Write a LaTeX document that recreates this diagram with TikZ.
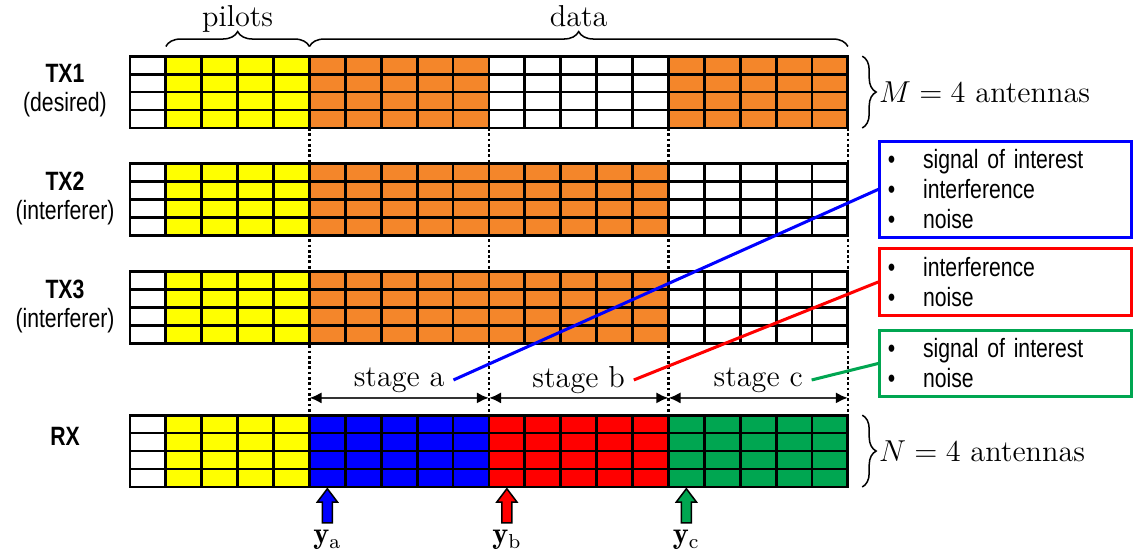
\documentclass[tikz,border=0pt]{standalone}
\usepackage{fontspec}
\usepackage{tikz}
\usetikzlibrary{arrows.meta,decorations.pathreplacing}
\newfontfamily\narrowsans[FakeStretch=0.8]{Liberation Sans}

\begin{document}
\begin{tikzpicture}[x=0.5cm,y=0.5cm,
  cellgrid/.style={line width=1.1pt,xstep=0.5cm,ystep=0.25cm},
  sidelabel/.style={font=\narrowsans\fontsize{10.5}{11.5}\selectfont,align=center},
  serif/.style={font=\fontsize{12}{14}\selectfont},
  mybrace/.style={decorate,decoration={brace,amplitude=#1},line width=0.6pt},
  guide/.style={densely dotted,line width=1.1pt},
  stagearrow/.style={{Latex[length=4.8pt,width=4.5pt,color=black]}-{Latex[length=4.8pt,width=4.5pt,color=black]},line width=1pt,draw=black!80},
  infobox/.style={draw,line width=1.2pt,font=\narrowsans\fontsize{10.5}{11.85}\selectfont,align=left,inner xsep=3.2pt,text width=3.51cm-6.4pt},
  link/.style={line width=1.2pt}]
\definecolor{tangerine}{HTML}{F4862A}
\definecolor{pilotyellow}{HTML}{FFFF00}
\definecolor{rxblue}{HTML}{0000FF}
\definecolor{rxred}{HTML}{FF0000}
\definecolor{rxgreen}{HTML}{00A651}
\useasboundingbox (-3.62,-1.894) rectangle (27.97,13.565);

% stage borders between the frames
\foreach \xd in {5,10,15,20}
{ \coordinate (top\xd) at (\xd,10);
  \coordinate (bot\xd) at (\xd,2);
  \coordinate (mid\xd) at (\xd,2.48);
  \draw[guide] (top\xd) -- (bot\xd);}

% one frame per terminal: 4 antennas x 20 slots
\foreach \tag/\yb/\ca/\cb/\cc in {tx1/10/tangerine/white/tangerine,tx2/7/tangerine/tangerine/white,tx3/4/tangerine/tangerine/white,rx/0/rxblue/rxred/rxgreen}
{ \fill[white] (0,\yb) rectangle (1,\yb+2);
  \fill[pilotyellow] (1,\yb) rectangle (5,\yb+2);
  \fill[\ca] (5,\yb) rectangle (10,\yb+2);
  \fill[\cb] (10,\yb) rectangle (15,\yb+2);
  \fill[\cc] (15,\yb) rectangle (20,\yb+2);
  \draw[cellgrid] (0,\yb) grid (20,\yb+2);
  \draw[cellgrid] (0,\yb) rectangle (20,\yb+2);}

\foreach \tag/\yl/\txt in {tx1/11.03/{\textbf{TX1}\\(desired)},tx2/8.03/{\textbf{TX2}\\(interferer)},tx3/5.03/{\textbf{TX3}\\(interferer)},rx/1.42/{\textbf{RX}}}
{ \node[sidelabel] (lbl\tag) at (-1.81,\yl) {\txt};}

\draw[mybrace=5.9pt] (1,12.27) -- (5,12.27);
\node[serif,anchor=base] (pilots) at (3,12.84) {pilots};
\draw[mybrace=5.9pt] (5,12.27) -- (20,12.27);
\node[serif,anchor=base] (data) at (12.5,12.84) {data};

\draw[mybrace=5.5pt] (20.4,12) -- (20.4,10) node[serif,midway,right=3pt] (txant) {$M=4$ antennas};
\draw[mybrace=5.5pt] (20.4,2) -- (20.4,0) node[serif,midway,right=3pt] (rxant) {$N=4$ antennas};

\foreach \s/\xa/\xb in {a/5/10,b/10/15,c/15/20}
{ \draw[stagearrow] (mid\xa) -- (mid\xb);
  \node[serif] (stage\s) at ({(\xa+\xb)/2},2.98) {stage \s};}

\node[infobox,draw=rxblue,minimum height=1.184cm] (boxa) at (24.4,8.29)
  {\textbullet\hspace{11pt}signal of interest\\\textbullet\hspace{11pt}interference\\\textbullet\hspace{11pt}noise};
\node[infobox,draw=rxred,minimum height=0.89cm] (boxb) at (24.4,5.71)
  {\textbullet\hspace{11pt}interference\\\textbullet\hspace{11pt}noise};
\node[infobox,draw=rxgreen,minimum height=0.88cm] (boxc) at (24.4,3.44)
  {\textbullet\hspace{11pt}signal of interest\\\textbullet\hspace{11pt}noise};

\draw[link,rxblue] (stagea.east) -- (boxa.west);
\draw[link,rxred] (stageb.east) -- (boxb.west);
\draw[link,rxgreen] (stagec.east) -- (boxc.west);

% received blocks taken by each stage
\foreach \xc/\col/\s in {5.5/rxblue/a,10.5/rxred/b,15.5/rxgreen/c}
{ \filldraw[fill=\col,line width=0.6pt] (\xc-0.14,-1.0) -- (\xc-0.14,-0.42) -- (\xc-0.28,-0.42) -- (\xc,-0.05) -- (\xc+0.28,-0.42) -- (\xc+0.14,-0.42) -- (\xc+0.14,-1.0) -- cycle;
  \node[serif] (y\s) at (\xc,-1.48) {$\mathbf{y}_{\mathrm{\s}}$};}
\end{tikzpicture}
\end{document}
